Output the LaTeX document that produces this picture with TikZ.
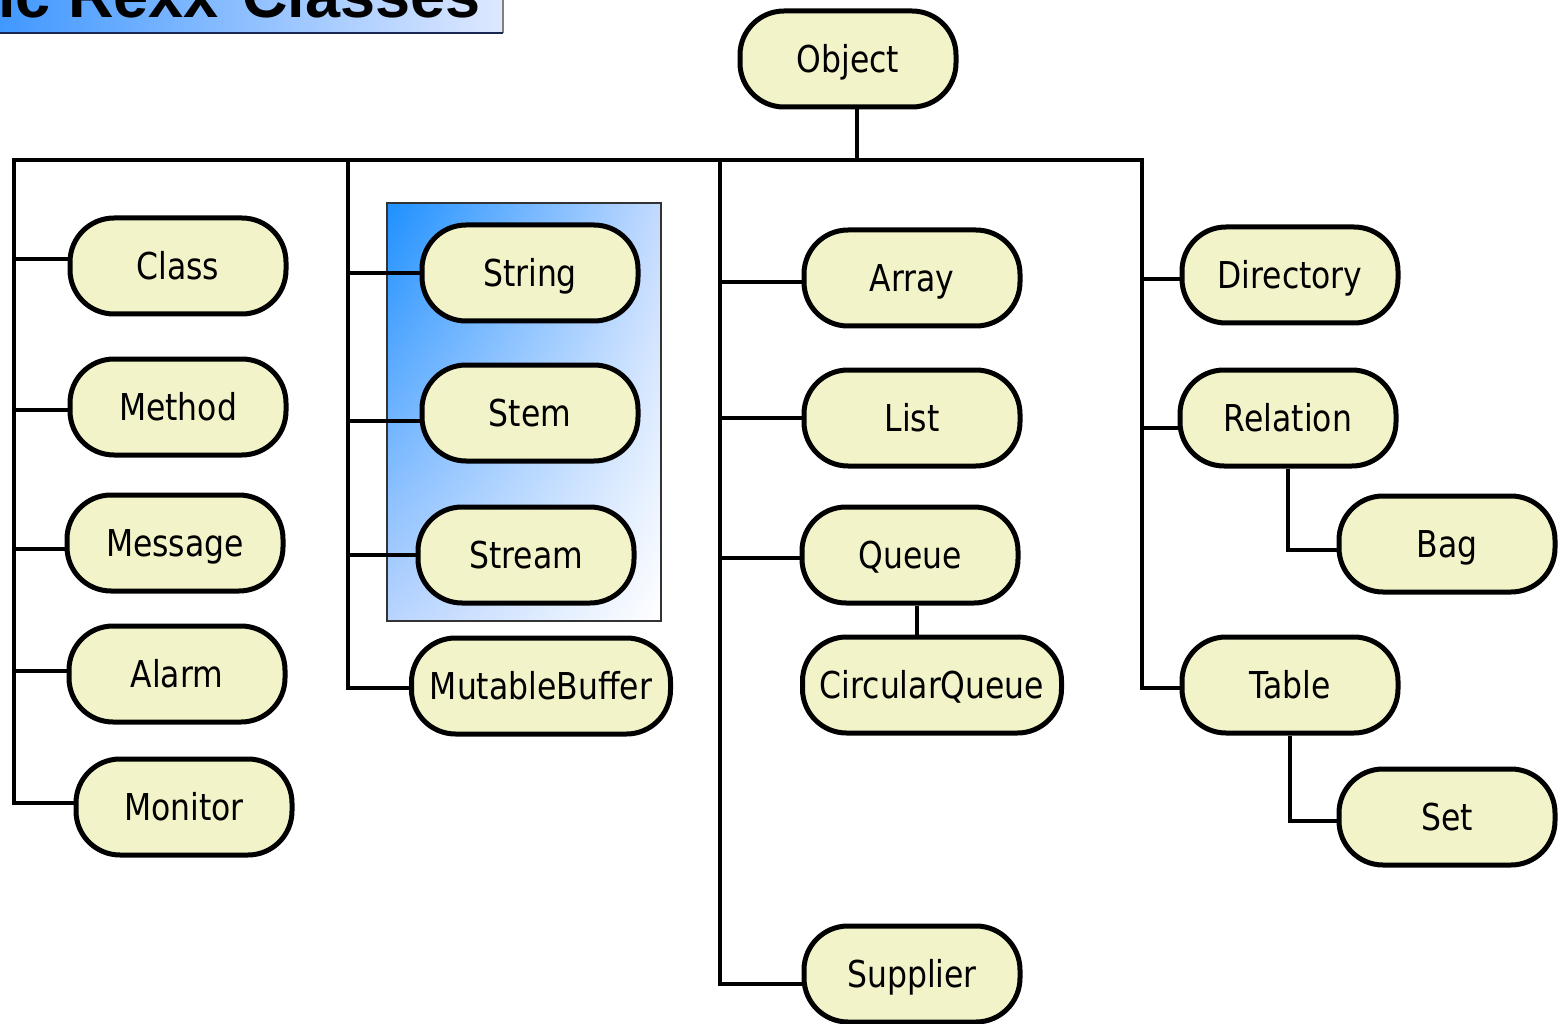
\documentclass[tikz,border=0pt]{standalone}
\usepackage{fontspec}
\setmainfont{DejaVu Sans}[FakeStretch=0.85]
\newfontfamily\titlefont{Liberation Sans}
\usetikzlibrary{calc,shadings}
\definecolor{nodefill}{RGB}{242,243,200}
\definecolor{gblue}{RGB}{30,144,255}
\definecolor{gtr}{RGB}{195,218,255}
\definecolor{gbl}{RGB}{185,212,255}
\definecolor{tleft}{RGB}{65,152,255}
\definecolor{tright}{RGB}{222,232,255}
\definecolor{navy}{RGB}{25,40,80}
\begin{document}
\begin{tikzpicture}[x=1pt,y=-1pt,
  cls/.style={draw=black, line width=5pt, fill=nodefill, rounded corners=44pt,
    minimum width=216pt, minimum height=96pt, inner sep=0pt,
    text height=27pt, text depth=0pt, font=\fontsize{37}{40}\selectfont},
  widecls/.style={cls, minimum width=259pt},
  link/.style={line width=4.5pt, draw=black}]
\useasboundingbox (0,0) rectangle (1561,1024);
\fill[white] (0,0) rectangle (1561,1024);
% title bar
\shade[left color=tleft, right color=tright] (0,0) rectangle (503,33);
\draw[gray, line width=1.2pt] (503,0) -- (503,33);
\draw[navy, line width=1.5pt] (0,33) -- (503,33);
\node[anchor=base east, inner sep=0pt, font=\titlefont\bfseries\fontsize{63}{66}\selectfont] (title) at (481,18) {sic Rexx\hspace{6pt} Classes};
% highlight box
\shade[upper left=gblue, upper right=gtr, lower left=gbl, lower right=white] (387,203) rectangle (661,621);
\draw[black!80, line width=1.2pt] (387,203) rectangle (661,621);
% nodes
\node[cls] (Object) at (848,59) {Object};
\node[cls] (Class) at (178,266) {Class};
\node[cls] (Method) at (178,407) {Method};
\node[cls] (Message) at (175,543) {Message};
\node[cls] (Alarm) at (177,674) {Alarm};
\node[cls] (Monitor) at (184,807) {Monitor};
\node[cls] (String) at (530,273) {String};
\node[cls] (Stem) at (530,413) {Stem};
\node[cls] (Stream) at (526,555) {Stream};
\node[widecls] (MutableBuffer) at (541,686) {MutableBuffer};
\node[cls] (Array) at (912,278) {Array};
\node[cls] (List) at (912,418) {List};
\node[cls] (Queue) at (910,555) {Queue};
\node[widecls] (CircularQueue) at (932,685) {CircularQueue};
\node[cls] (Supplier) at (912,974) {Supplier};
\node[cls] (Directory) at (1290,275) {Directory};
\node[cls] (Relation) at (1288,418) {Relation};
\node[cls] (Bag) at (1447,544) {Bag};
\node[cls] (Table) at (1290,685) {Table};
\node[cls] (Set) at (1447,817) {Set};
% bus
\coordinate (top) at (857,160);
\coordinate (b1) at (14,160);
\coordinate (b2) at (348,160);
\coordinate (b3) at (720,160);
\coordinate (b4) at (1142,160);
\draw[link] ([xshift=9pt]Object.south) -- (top);
\draw[link] ([xshift=-2.25pt]b1) -- ([xshift=2.25pt]b4);
% column 1
\draw[link] (b1) |- ([yshift=7pt]Class.west);
\draw[link] (b1) |- ([yshift=-3pt]Method.west);
\draw[link] (b1) |- ([yshift=-6pt]Message.west);
\draw[link] (b1) |- ([yshift=3pt]Alarm.west);
\draw[link] (b1) |- ([yshift=4pt]Monitor.west);
% column 2
\draw[link] (b2) |- (String.west);
\draw[link] (b2) |- ([yshift=-8pt]Stem.west);
\draw[link] (b2) |- (Stream.west);
\draw[link] (b2) |- ([yshift=-2pt]MutableBuffer.west);
% column 3
\draw[link] (b3) |- ([yshift=-4pt]Array.west);
\draw[link] (b3) |- (List.west);
\draw[link] (b3) |- ([yshift=-3pt]Queue.west);
\draw[link] (b3) |- ([yshift=-10pt]Supplier.west);
\draw[link] ([xshift=7pt]Queue.south) -- ([xshift=7pt]Queue.south |- CircularQueue.north);
% column 4
\draw[link] (b4) |- ([yshift=-4pt]Directory.west);
\draw[link] (b4) |- ([yshift=-10pt]Relation.west);
\draw[link] (b4) |- ([yshift=-3pt]Table.west);
\draw[link] (Relation.south) |- ([yshift=-6pt]Bag.west);
\draw[link] (Table.south) |- ([yshift=-4pt]Set.west);
\end{tikzpicture}
\end{document}
